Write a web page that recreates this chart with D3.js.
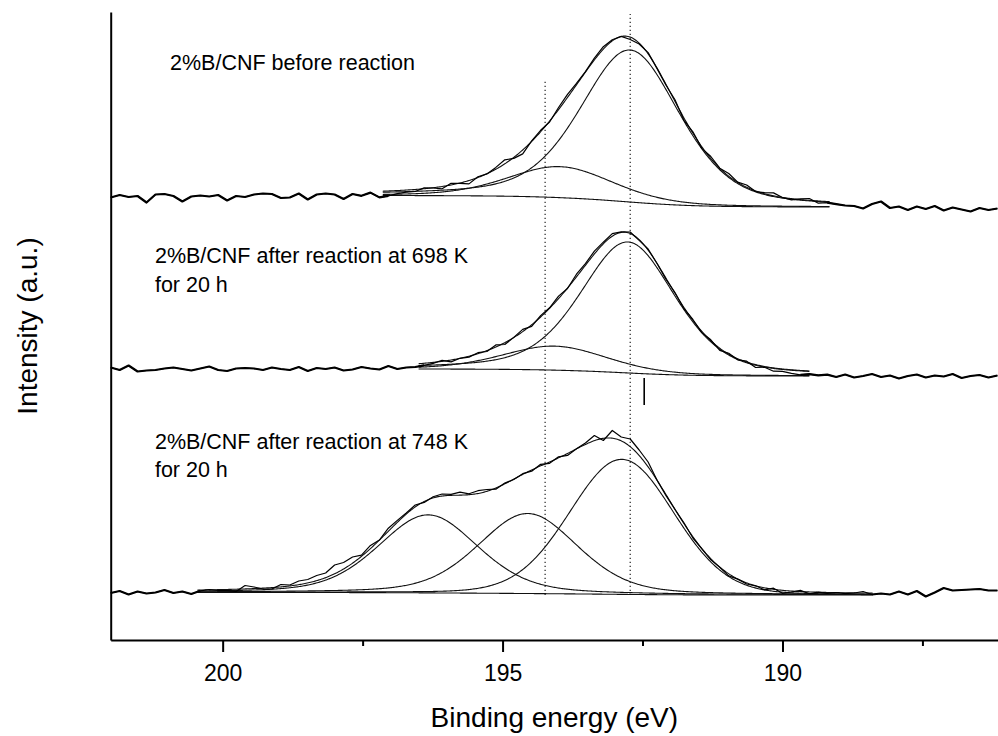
<!DOCTYPE html>
<html>
<head>
<meta charset="utf-8">
<script src="https://cdn.jsdelivr.net/npm/d3@7"></script>
<style>
  body { margin: 0; background: #fff; }
  svg { display: block; }
  text { font-family: "Liberation Sans", Arial, sans-serif; fill: #000; }
</style>
</head>
<body>
<svg id="chart"></svg>
<script>
/* CONSTANTS AND GLOBALS */
const width = 998,
  height = 736,
  margin = { top: 12, bottom: 96, left: 110.7, right: 0 };

/* DATA */
// binding energy grid of the scans (eV), 0.16 eV per step, 100 points
const energyStart = 202, energyStep = 0.16, nPoints = 100;

// raw B 1s counts (a.u., stacked)
const topRaw = [
  442.5, 445.0, 443.0, 444.0, 437.5, 445.5, 446.0, 444.0, 438.5, 443.5,
  444.5, 443.5, 445.0, 439.5, 444.0, 443.0, 445.5, 446.5, 446.0, 442.0,
  442.5, 446.5, 440.5, 445.5, 446.5, 445.5, 441.0, 446.0, 444.2, 447.4,
  442.6, 444.1, 446.3, 447.8, 448.5, 452.1, 452.0, 451.2, 456.7, 456.7,
  456.1, 463.2, 466.1, 472.6, 480.2, 481.6, 486.1, 499.1, 509.7, 518.0,
  532.5, 545.7, 556.6, 568.3, 581.9, 593.3, 600.3, 603.6, 600.5, 596.0,
  587.4, 571.4, 554.7, 540.2, 519.7, 508.2, 491.6, 483.5, 471.8, 466.5,
  457.9, 455.0, 448.4, 447.4, 447.1, 442.5, 440.2, 441.2, 441.5, 436.8,
  437.4, 435.9, 434.5, 434.0, 431.5, 436.0, 438.5, 432.0, 433.5, 430.0,
  433.5, 431.0, 434.0, 429.5, 432.5, 430.5, 428.5, 432.0, 430.0, 431.5
];
const midRaw = [
  272.5, 270.0, 274.5, 268.5, 269.5, 270.0, 271.5, 272.5, 271.0, 269.5,
  271.5, 273.5, 270.0, 269.0, 271.5, 272.0, 271.5, 270.0, 272.5, 271.0,
  270.0, 273.0, 269.0, 272.0, 271.0, 272.5, 269.5, 270.5, 273.0, 271.5,
  270.5, 274.0, 271.0, 272.5, 273.0, 274.7, 276.6, 279.7, 278.1, 281.7,
  282.9, 287.3, 288.5, 295.1, 295.5, 302.6, 310.6, 313.6, 324.4, 332.2,
  343.9, 351.5, 365.8, 376.4, 388.8, 397.8, 406.4, 408.2, 408.0, 399.6,
  391.0, 376.5, 360.6, 347.5, 331.3, 320.5, 307.4, 300.2, 289.6, 286.7,
  280.2, 278.8, 272.5, 272.8, 268.8, 268.6, 266.7, 265.2, 265.9, 264.6,
  265.4, 263.0, 265.5, 262.5, 264.0, 266.0, 263.0, 264.5, 261.5, 264.0,
  265.5, 262.5, 264.5, 263.5, 266.0, 262.0, 264.0, 265.0, 262.5, 264.5
];
const lowRaw = [
  47.0, 49.0, 45.5, 48.5, 46.5, 47.5, 50.0, 47.0, 48.5, 46.0,
  49.2, 50.5, 49.5, 49.5, 48.5, 54.5, 53.0, 51.0, 51.0, 55.5,
  55.0, 59.0, 60.5, 64.5, 67.0, 75.0, 77.5, 83.0, 84.9, 94.6,
  100.0, 111.8, 119.6, 127.0, 135.0, 137.6, 143.2, 146.0, 145.6, 147.8,
  146.2, 149.3, 150.5, 150.8, 156.9, 160.5, 166.3, 168.8, 175.7, 176.7,
  183.2, 184.6, 191.2, 197.0, 204.5, 199.5, 209.5, 203.0, 201.0, 190.0,
  178.0, 159.7, 144.3, 130.5, 117.2, 102.0, 91.2, 80.1, 72.7, 64.1,
  60.9, 56.0, 54.2, 50.1, 51.8, 46.7, 48.0, 49.6, 46.2, 47.9,
  46.7, 47.5, 46.3, 47.0, 48.5, 45.5, 46.5, 45.5, 48.5, 45.5,
  49.0, 43.5, 47.5, 52.0, 49.5, 50.0, 50.5, 51.0, 49.5, 49.5
];

// fitted components: centre (eV), height (a.u.), FWHM (eV), Lorentzian share
const topPeaks = [
  { center: 192.72, height: 152, fwhm: 2.10, lorentz: 0.4 },
  { center: 193.97, height: 31, fwhm: 2.20, lorentz: 0.3 }
];
const midPeaks = [
  { center: 192.76, height: 131, fwhm: 2.00, lorentz: 0.4 },
  { center: 194.07, height: 24, fwhm: 2.20, lorentz: 0.3 }
];
const lowPeaks = [
  { center: 196.33, height: 78, fwhm: 2.10, lorentz: 0.3 },
  { center: 194.55, height: 80, fwhm: 2.10, lorentz: 0.3 },
  { center: 192.87, height: 135, fwhm: 2.20, lorentz: 0.1 }
];

// fit windows (eV, high -> low) and Shirley end levels (a.u., high-BE side / low-BE side)
const fitRanges = [[197.14, 189.16], [196.5, 189.52], [200.45, 188.39]];
const backgroundLevels = [[444.5, 433], [271, 264], [47.5, 45]];

// dotted guide lines and the small tick mark under the middle scan
const guideLines = [
  { energy: 194.24, from: 45, to: 559 },
  { energy: 192.72, from: 45, to: 626 }
];
const markers = [{ energy: 192.47, from: 235, to: 262 }];

const sampleLabels = [
  ["2%B/CNF before reaction"],
  ["2%B/CNF after reaction at 698 K", "for 20 h"],
  ["2%B/CNF after reaction at 748 K", "for 20 h"]
];
const labelAnchors = [[200.94, 570], [201.21, 376.7], [201.21, 191]];

const majorTicks = [200, 195, 190];
const minorTicks = [197.5, 192.5, 187.5];

/* HELPERS */
function pseudoVoigt(e, p) {
  const t = ((e - p.center) / p.fwhm) ** 2;
  return p.height * ((1 - p.lorentz) * Math.exp(-4 * Math.LN2 * t) + p.lorentz / (1 + 4 * t));
}

// Shirley background: step follows the integrated peak area
function shirley(grid, peakSum, left, right) {
  const n = grid.length;
  const cum = new Array(n).fill(0);
  for (let k = n - 2; k >= 0; k--) cum[k] = cum[k + 1] + (peakSum[k] + peakSum[k + 1]) / 2;
  const total = cum[0];
  return cum.map(c => right + (left - right) * c / total);
}

let svg, xScale, yScale;

init();

/* INITIALIZING FUNCTION */
function init() {
  xScale = d3.scaleLinear()
    .domain([energyStart, energyStart - energyStep * (nPoints - 1) - 0.01])
    .range([margin.left, width - margin.right]);

  yScale = d3.scaleLinear()
    .domain([0, 628])
    .range([height - margin.bottom, margin.top]);

  svg = d3.select("#chart")
    .attr("width", width)
    .attr("height", height);

  draw();
}

/* DRAW FUNCTION */
function draw() {
  const energies = d3.range(nPoints).map(i => +(energyStart - i * energyStep).toFixed(2));
  const line = d3.line().x(d => xScale(d[0])).y(d => yScale(d[1]));

  const spectra = [
    { raw: topRaw, peaks: topPeaks },
    { raw: midRaw, peaks: midPeaks },
    { raw: lowRaw, peaks: lowPeaks }
  ];

  // guide lines
  svg.append("g")
    .selectAll("line")
    .data(guideLines)
    .join("line")
    .attr("x1", d => xScale(d.energy))
    .attr("x2", d => xScale(d.energy))
    .attr("y1", d => yScale(d.from))
    .attr("y2", d => yScale(d.to))
    .attr("stroke", "#222")
    .attr("stroke-width", 1.2)
    .attr("stroke-dasharray", "1.2,2.8");

  svg.append("g")
    .selectAll("line")
    .data(markers)
    .join("line")
    .attr("x1", d => xScale(d.energy))
    .attr("x2", d => xScale(d.energy))
    .attr("y1", d => yScale(d.from))
    .attr("y2", d => yScale(d.to))
    .attr("stroke", "#000")
    .attr("stroke-width", 1.6);

  const plot = svg.append("g").attr("fill", "none");

  spectra.forEach((s, si) => {
    const [eHi, eLo] = fitRanges[si];
    const grid = d3.range(eHi, eLo - 0.001, -0.02);
    const comps = s.peaks.map(p => grid.map(e => pseudoVoigt(e, p)));
    const sum = grid.map((e, k) => d3.sum(comps, c => c[k]));
    const bg = shirley(grid, sum, backgroundLevels[si][0], backgroundLevels[si][1]);

    const fitLines = [grid.map((e, k) => [e, bg[k]])]
      .concat(comps.map(c => grid.map((e, k) => [e, bg[k] + c[k]])))
      .concat([grid.map((e, k) => [e, bg[k] + sum[k]])]);

    plot.append("g")
      .selectAll("path")
      .data(fitLines)
      .join("path")
      .attr("d", line)
      .attr("stroke", "#111")
      .attr("stroke-width", 1.1);

    const pts = energies.map((e, i) => [e, s.raw[i]]);
    plot.append("path")
      .datum(pts)
      .attr("d", line)
      .attr("stroke", "#000")
      .attr("stroke-width", 1.2)
      .attr("stroke-linejoin", "round");

    // outside the fit window the scan is drawn heavier
    const outside = [
      pts.filter(d => d[0] >= eHi - energyStep),
      pts.filter(d => d[0] <= eLo + energyStep)
    ];
    plot.append("g")
      .selectAll("path")
      .data(outside)
      .join("path")
      .attr("d", line)
      .attr("stroke", "#000")
      .attr("stroke-width", 2.2)
      .attr("stroke-linejoin", "round");
  });

  // sample labels
  svg.append("g")
    .selectAll("text")
    .data(sampleLabels)
    .join("text")
    .attr("x", (d, i) => xScale(labelAnchors[i][0]))
    .attr("y", (d, i) => yScale(labelAnchors[i][1]))
    .attr("font-size", "21.5px")
    .selectAll("tspan")
    .data(d => d)
    .join("tspan")
    .attr("x", function () { return this.parentNode.getAttribute("x"); })
    .attr("dy", (d, i) => i === 0 ? 0 : 28.4)
    .text(d => d);

  // axes
  const xAxis = svg.append("g")
    .attr("transform", `translate(0,${height - margin.bottom})`)
    .call(d3.axisBottom(xScale).tickValues(majorTicks).tickSize(12).tickSizeOuter(0).tickFormat(d3.format("d")));
  xAxis.select(".domain").attr("stroke-width", 2);
  xAxis.selectAll(".tick line").attr("stroke-width", 2);
  xAxis.selectAll(".tick text")
    .attr("y", 41)
    .attr("dy", 0)
    .attr("font-size", "23px")
    .attr("font-family", "Liberation Sans, Arial, sans-serif");

  const xMinor = svg.append("g")
    .attr("transform", `translate(0,${height - margin.bottom})`)
    .call(d3.axisBottom(xScale).tickValues(minorTicks).tickSize(6).tickFormat(""));
  xMinor.select(".domain").remove();
  xMinor.selectAll(".tick line").attr("stroke-width", 2);

  const yAxis = svg.append("g")
    .attr("transform", `translate(${margin.left},0)`)
    .call(d3.axisLeft(yScale).tickValues([]).tickSizeOuter(0));
  yAxis.select(".domain").attr("stroke-width", 2);

  // axis titles
  svg.append("text")
    .attr("x", (margin.left + width - margin.right) / 2)
    .attr("y", 727)
    .attr("text-anchor", "middle")
    .attr("font-size", "28px")
    .text("Binding energy (eV)");

  svg.append("text")
    .attr("transform", `translate(37,${(margin.top + height - margin.bottom) / 2}) rotate(-90)`)
    .attr("text-anchor", "middle")
    .attr("font-size", "28px")
    .text("Intensity (a.u.)");
}
</script>
</body>
</html>
